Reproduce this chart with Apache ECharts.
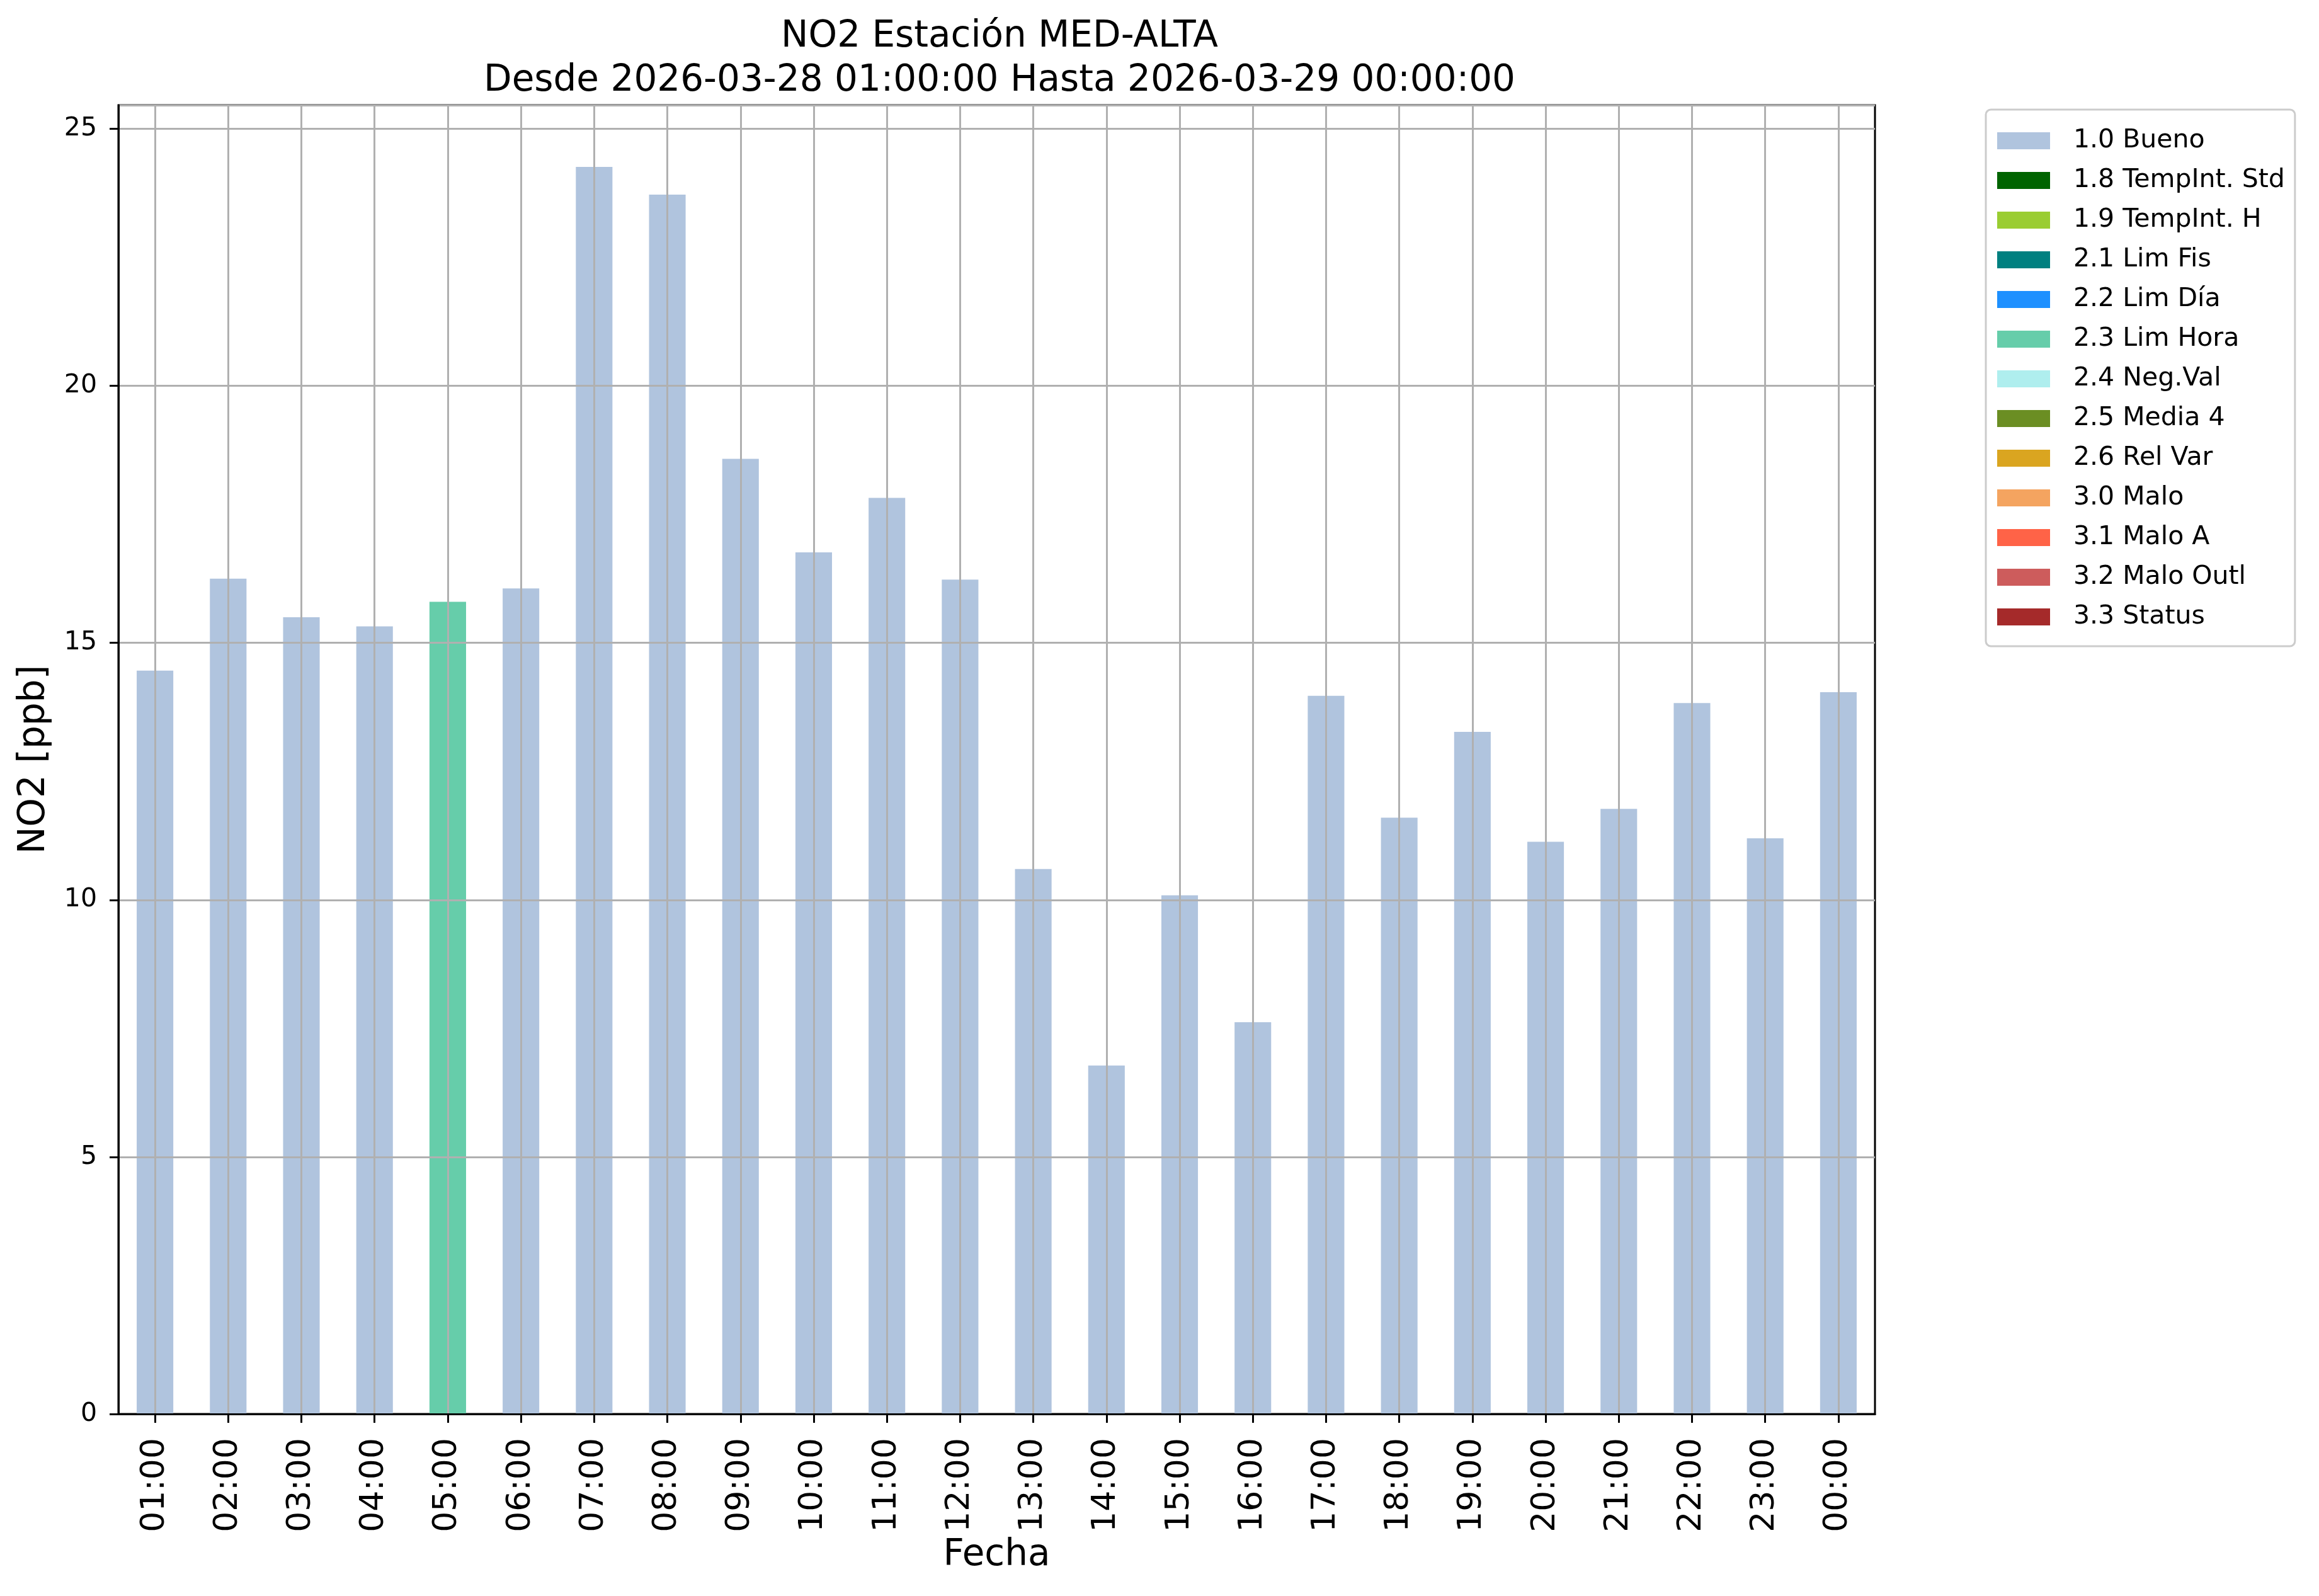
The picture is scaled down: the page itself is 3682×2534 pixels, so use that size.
<!DOCTYPE html>
<html><head><meta charset="utf-8">
<script src="https://cdn.jsdelivr.net/npm/echarts@6/dist/echarts.min.js"></script>
<style>html,body{margin:0;padding:0;background:#fff}#c{width:3682px;height:2534px}</style>
</head><body><div id="c"></div>
<script>
const hours = ['01:00','02:00','03:00','04:00','05:00','06:00','07:00','08:00','09:00','10:00','11:00','12:00',
  '13:00','14:00','15:00','16:00','17:00','18:00','19:00','20:00','21:00','22:00','23:00','00:00'];
const no2Values = [14.46,16.25,15.50,15.32,15.80,16.06,24.26,23.72,18.58,16.76,17.82,16.23,
  10.60,6.78,10.09,7.62,13.97,11.60,13.27,11.13,11.77,13.83,11.20,14.04];
const hourFlags = ['1.0 Bueno','1.0 Bueno','1.0 Bueno','1.0 Bueno','2.3 Lim Hora','1.0 Bueno','1.0 Bueno','1.0 Bueno',
  '1.0 Bueno','1.0 Bueno','1.0 Bueno','1.0 Bueno','1.0 Bueno','1.0 Bueno','1.0 Bueno','1.0 Bueno',
  '1.0 Bueno','1.0 Bueno','1.0 Bueno','1.0 Bueno','1.0 Bueno','1.0 Bueno','1.0 Bueno','1.0 Bueno'];
const flagNames = ['1.0 Bueno','1.8 TempInt. Std','1.9 TempInt. H','2.1 Lim Fis','2.2 Lim Día','2.3 Lim Hora',
  '2.4 Neg.Val','2.5 Media 4','2.6 Rel Var','3.0 Malo','3.1 Malo A','3.2 Malo Outl','3.3 Status'];
const flagColors = ['#B0C4DE','#006400','#9ACD32','#008080','#1E90FF','#66CDAA',
  '#AFEEEE','#6B8E23','#DAA520','#F4A460','#FF6347','#CD5C5C','#A52A2A'];
const titleLines = ['NO2 Estación MED-ALTA','Desde 2026-03-28 01:00:00 Hasta 2026-03-29 00:00:00'];
const yAxisName = 'NO2 [ppb]';
const xAxisName = 'Fecha';

const FONT = 'DejaVu Sans';
const chart = echarts.init(document.getElementById('c'), null, {renderer: 'canvas'});

const series = flagNames.map((name, k) => ({
  name: name,
  type: 'bar',
  stack: 'flags',
  barWidth: '50%',
  itemStyle: {color: flagColors[k]},
  emphasis: {disabled: true},
  data: no2Values.map((v, i) => hourFlags[i] === name ? v : '-'),
  z: 2
}));

chart.setOption({
  backgroundColor: '#ffffff',
  animation: false,
  textStyle: {fontFamily: FONT},
  title: {
    text: titleLines.join('\n'),
    left: 1582,
    textAlign: 'center',
    top: 19,
    textStyle: {fontFamily: FONT, fontSize: 58, fontWeight: 'normal', color: '#000', lineHeight: 70}
  },
  legend: {
    orient: 'vertical',
    left: 3153,
    top: 174,
    data: flagNames,
    icon: 'rect',
    itemWidth: 84,
    itemHeight: 27,
    itemGap: 22,
    selectedMode: false,
    padding: [29, 16, 26, 18],
    borderColor: '#cccccc',
    borderWidth: 3,
    borderRadius: 8,
    backgroundColor: '#ffffff',
    textStyle: {fontFamily: FONT, fontSize: 41, color: '#000', lineHeight: 41, padding: [0, 0, 0, 32]}
  },
  grid: {
    left: 188, top: 167, width: 2789, height: 2078,
    show: true, borderColor: '#000', borderWidth: 3, backgroundColor: 'transparent'
  },
  xAxis: {
    type: 'category',
    data: hours,
    z: 10,
    name: xAxisName,
    nameLocation: 'middle',
    nameGap: 192,
    nameTextStyle: {fontFamily: FONT, fontSize: 58, color: '#000'},
    axisLine: {show: true, lineStyle: {color: '#000', width: 3}},
    axisTick: {show: true, alignWithLabel: true, length: 14, lineStyle: {color: '#000', width: 3}},
    axisLabel: {rotate: 90, interval: 0, margin: 38, fontFamily: FONT, fontSize: 52, color: '#000'},
    splitLine: {show: true, alignWithLabel: true, interval: 0, lineStyle: {color: '#b0b0b0', width: 3}}
  },
  yAxis: {
    type: 'value',
    min: 0,
    max: 25.46,
    interval: 5,
    z: 10,
    name: yAxisName,
    nameLocation: 'middle',
    nameGap: 104,
    nameRotate: 90,
    nameTextStyle: {fontFamily: FONT, fontSize: 58, color: '#000'},
    axisLine: {show: true, lineStyle: {color: '#000', width: 3}},
    axisTick: {show: true, length: 14, lineStyle: {color: '#000', width: 3}},
    axisLabel: {margin: 34, fontFamily: FONT, fontSize: 41, color: '#000', showMaxLabel: false},
    splitLine: {show: true, lineStyle: {color: '#b0b0b0', width: 3}}
  },
  series: series
});
</script>
</body></html>
